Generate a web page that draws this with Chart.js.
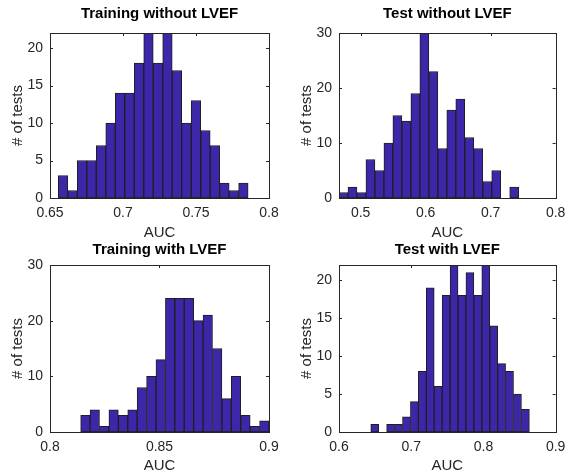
<!DOCTYPE html>
<html><head><meta charset="utf-8">
<script src="https://cdn.jsdelivr.net/npm/chart.js@4"></script>
<style>
html,body{margin:0;padding:0;background:#fff;}
#wrap{position:relative;width:572px;height:473px;background:#fff;}
canvas{position:absolute;left:0;top:0;}
</style></head><body>
<div id="wrap">
<canvas id="c0" width="572" height="473"></canvas>
<canvas id="c1" width="572" height="473"></canvas>
<canvas id="c2" width="572" height="473"></canvas>
<canvas id="c3" width="572" height="473"></canvas>
</div>
<script>
// ---- data ----
const panelTitles = ['Training without LVEF', 'Test without LVEF', 'Training with LVEF', 'Test with LVEF'];
const trainNoLvefCounts = [3, 1, 5, 5, 7, 10, 14, 14, 18, 22, 18, 22, 17, 10, 13, 9, 7, 2, 1, 2];
const testNoLvefCounts  = [1, 2, 1, 7, 5, 10, 15, 14, 19, 30, 23, 9, 16, 18, 11, 9, 3, 5, 0, 2];
const trainLvefCounts   = [3, 4, 1, 4, 3, 4, 8, 10, 13, 24, 24, 24, 20, 21, 15, 6, 10, 3, 1, 2];
const testLvefCounts    = [1, 0, 1, 1, 2, 4, 8, 19, 6, 18, 22, 18, 21, 18, 22, 14, 9, 8, 5, 3];
// histogram bin layout (first bin edge, bin width)
const binStarts = [0.6557, 0.4667, 0.814, 0.644];
const binWidths = [0.0065, 0.01382, 0.0043, 0.01098];
// axis limits and tick labels
const xLimits = [[0.65, 0.8], [0.4667, 0.8], [0.8, 0.9], [0.6, 0.9]];
const xTickLabels = [[0.65, 0.7, 0.75, 0.8], [0.5, 0.6, 0.7, 0.8], [0.8, 0.85, 0.9], [0.6, 0.7, 0.8, 0.9]];
const yMax = [22, 30, 30, 22];
const yTickLabels = [[0, 5, 10, 15, 20], [0, 10, 20, 30], [0, 10, 20, 30], [0, 5, 10, 15, 20]];
const xLabel = 'AUC';
const yLabel = '# of tests';

const FONT = "'Liberation Sans', Arial, Helvetica, sans-serif";
const BAR = '#3E26A8';
const EDGE = '#1f1f1f';
const AXIS = '#262626';

const axesBox = {
  id: 'axesBox',
  beforeDatasetsDraw(chart) {
    const {ctx, chartArea: a, scales: {x, y}} = chart;
    const tl = 3;
    ctx.save();
    ctx.strokeStyle = AXIS; ctx.lineWidth = 1;
    ctx.beginPath();
    x.ticks.forEach(t => {
      const px = Math.round(x.getPixelForValue(t.value)) + 0.5;
      ctx.moveTo(px, a.bottom); ctx.lineTo(px, a.bottom - tl);
      ctx.moveTo(px, a.top); ctx.lineTo(px, a.top + tl);
    });
    y.ticks.forEach(t => {
      const py = Math.round(y.getPixelForValue(t.value)) + 0.5;
      ctx.moveTo(a.left, py); ctx.lineTo(a.left + tl, py);
      ctx.moveTo(a.right, py); ctx.lineTo(a.right - tl, py);
    });
    ctx.stroke();
    ctx.restore();
  },
  afterDatasetsDraw(chart) {
    const {ctx, chartArea: a} = chart;
    ctx.save();
    ctx.strokeStyle = AXIS; ctx.lineWidth = 1;
    ctx.strokeRect(Math.round(a.left) + 0.5, Math.round(a.top) + 0.5,
                   Math.round(a.right - a.left), Math.round(a.bottom - a.top));
    ctx.restore();
  }
};

// layout per panel (positions only)
const layouts = [
  {pad: {left: 0,   right: 303, top: 5,   bottom: 230}, titleGap: 10, xH: 45, xTitlePad: 2.5},
  {pad: {left: 289, right: 13,  top: 5,   bottom: 230}, titleGap: 10, xH: 45, xTitlePad: 2.5},
  {pad: {left: 0,   right: 303, top: 241, bottom: 0},   titleGap: 6,  xH: 41, xTitlePad: 0},
  {pad: {left: 289, right: 13,  top: 241, bottom: 0},   titleGap: 6,  xH: 41, xTitlePad: 0}
];
const allCounts = [trainNoLvefCounts, testNoLvefCounts, trainLvefCounts, testLvefCounts];

allCounts.forEach((counts, k) => {
  const L = layouts[k];
  const pts = counts.map((c, i) => ({x: binStarts[k] + (i + 0.5) * binWidths[k], y: c}));
  new Chart(document.getElementById('c' + k), {
    type: 'bar',
    data: {datasets: [{
      data: pts,
      backgroundColor: BAR,
      borderColor: EDGE,
      borderWidth: 1,
      borderSkipped: false,
      barPercentage: 1,
      categoryPercentage: 1
    }]},
    options: {
      responsive: false,
      animation: false,
      devicePixelRatio: 1,
      layout: {padding: L.pad},
      plugins: {
        legend: {display: false},
        tooltip: {enabled: false},
        title: {
          display: true, text: panelTitles[k], fullSize: false, color: '#000',
          font: {family: FONT, size: 15, weight: 'bold', lineHeight: 1.2},
          padding: {top: 0, bottom: L.titleGap}
        }
      },
      scales: {
        x: {
          type: 'linear', offset: false,
          min: xLimits[k][0], max: xLimits[k][1],
          grid: {display: false, drawTicks: false},
          border: {display: false},
          afterBuildTicks: s => { s.ticks = xTickLabels[k].map(v => ({value: v})); },
          afterFit: s => { s.height = L.xH; },
          ticks: {
            padding: 6.6, color: AXIS, autoSkip: false, maxRotation: 0,
            font: {family: FONT, size: 14},
            callback: v => String(v)
          },
          title: {
            display: true, text: xLabel, color: AXIS,
            font: {family: FONT, size: 15, lineHeight: 1},
            padding: {top: 0, bottom: L.xTitlePad}
          }
        },
        y: {
          min: 0, max: yMax[k],
          grid: {display: false, drawTicks: false},
          border: {display: false},
          afterBuildTicks: s => { s.ticks = yTickLabels[k].map(v => ({value: v})); },
          afterFit: s => { s.width = 50; },
          ticks: {
            padding: 7, color: AXIS, autoSkip: false,
            font: {family: FONT, size: 14},
            callback: v => String(v)
          },
          title: {
            display: true, text: yLabel, color: AXIS,
            font: {family: FONT, size: 15, lineHeight: 1},
            padding: {top: 10, bottom: 0}
          }
        }
      }
    },
    plugins: [axesBox]
  });
});
</script>
</body></html>
